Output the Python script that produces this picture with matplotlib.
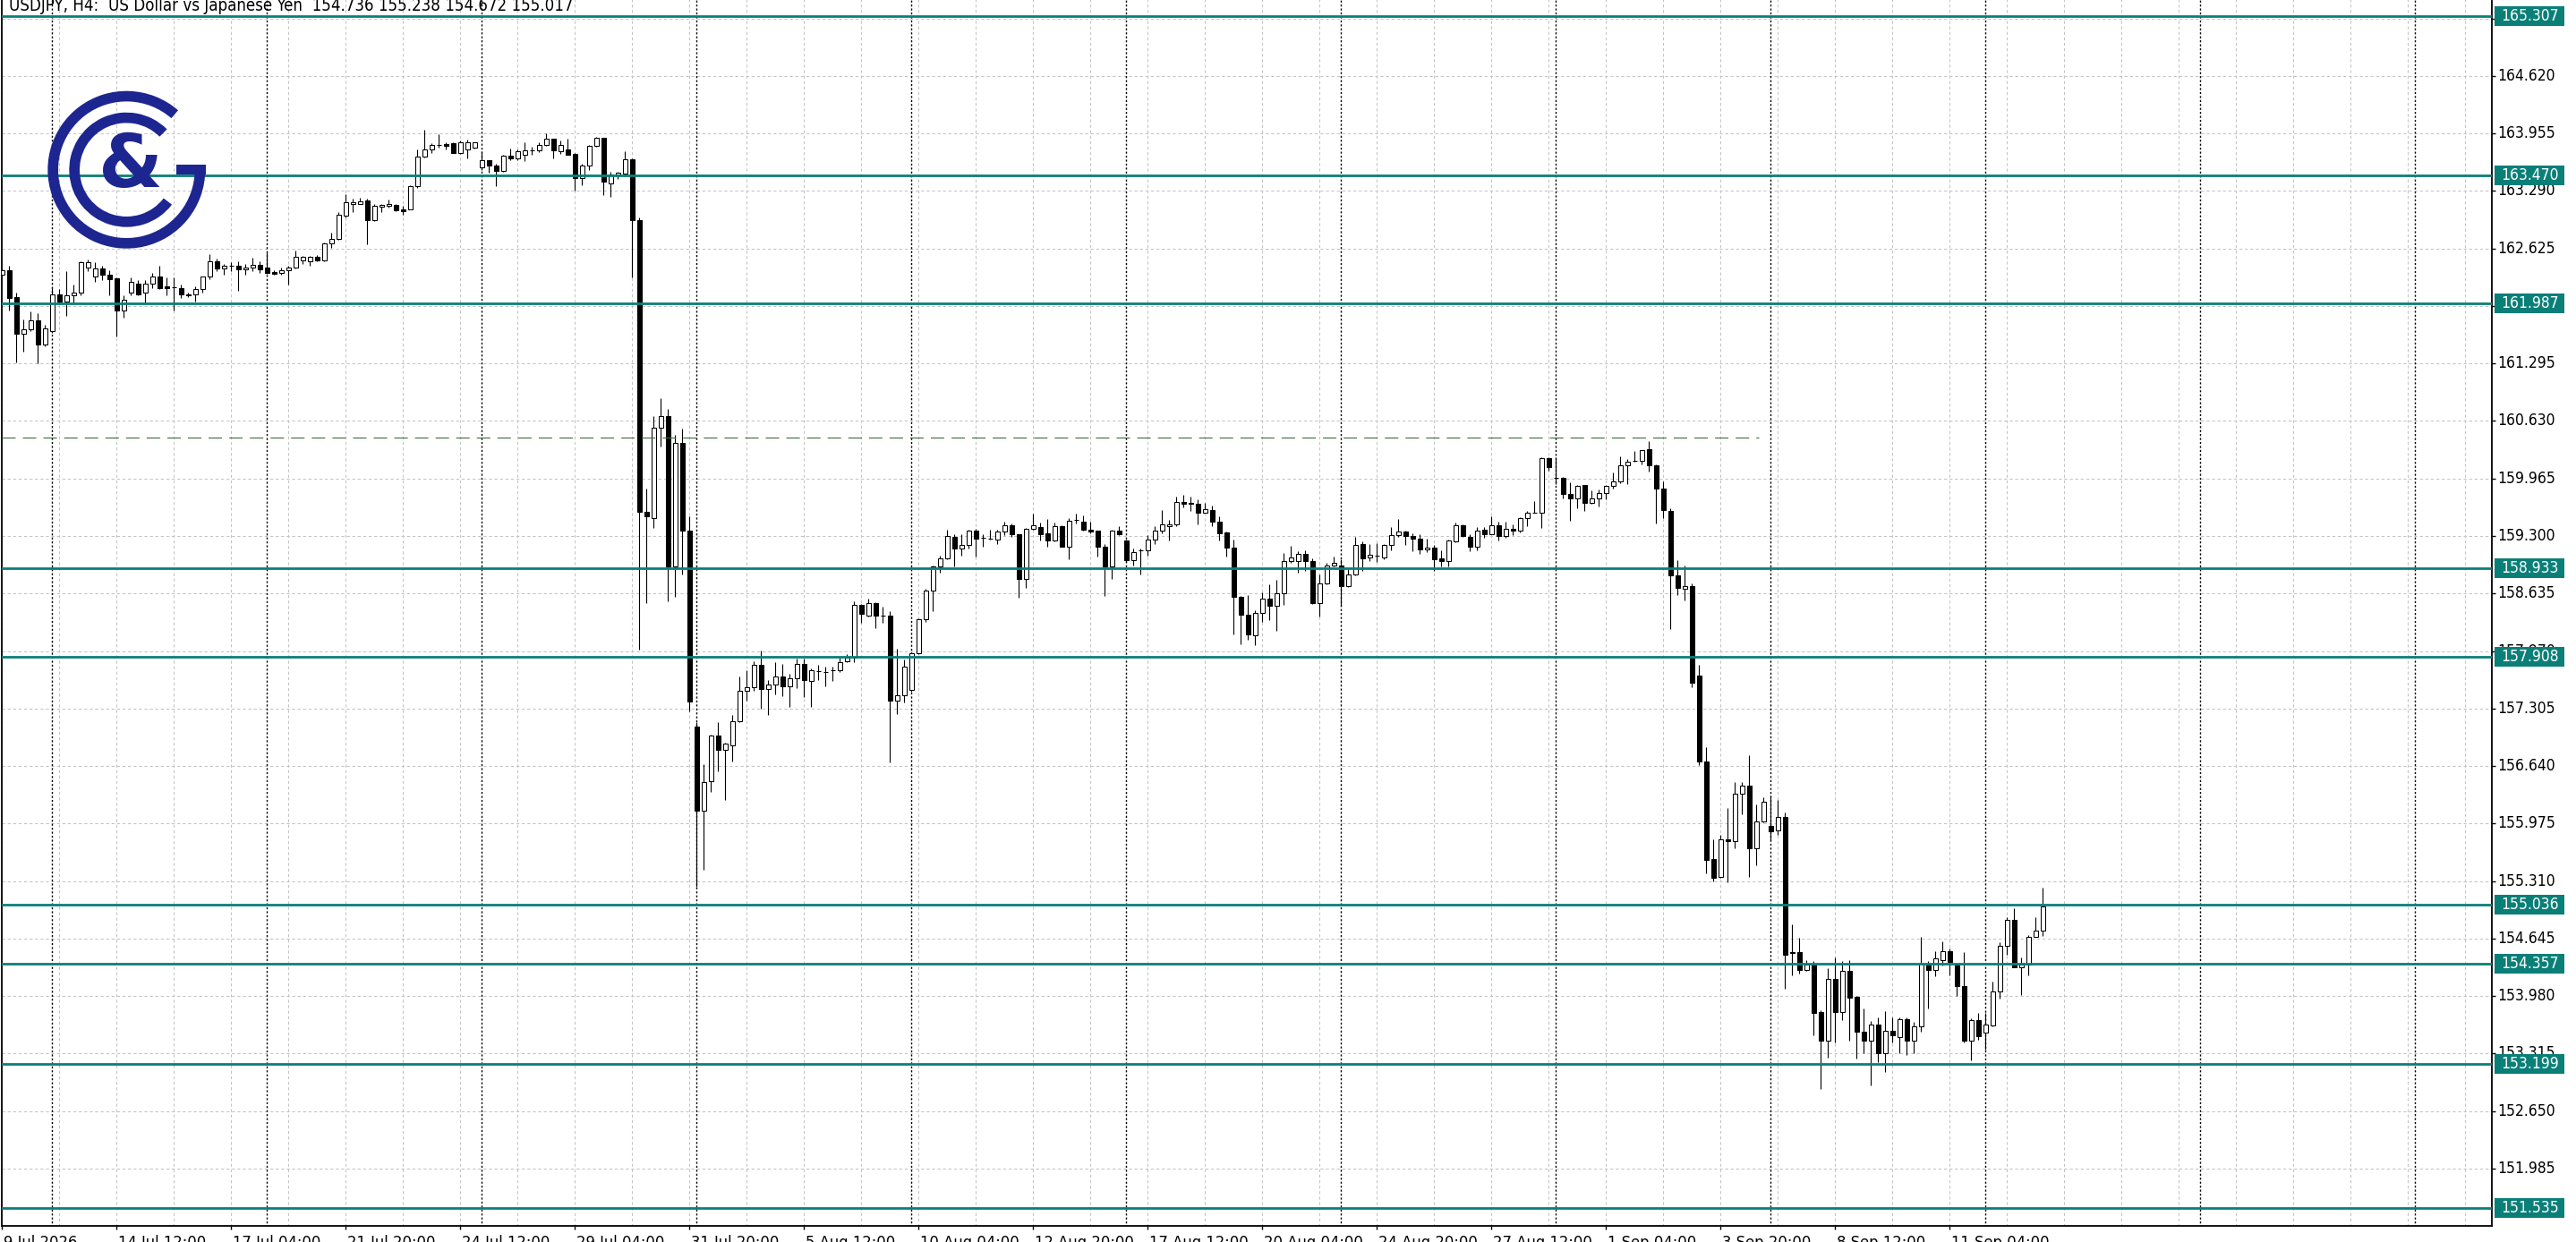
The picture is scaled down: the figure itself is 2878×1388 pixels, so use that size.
import numpy as np
import matplotlib
matplotlib.use("Agg")
import matplotlib.pyplot as plt
from matplotlib import font_manager as fm
from matplotlib.patches import Wedge, Rectangle
from matplotlib.transforms import Affine2D, blended_transform_factory

plt.rcParams['lines.scale_dashes'] = False

# ---------------- data (USDJPY H4 candles) ----------------
opens = [
162.324,162.375,162.058,161.634,161.686,161.799,161.513,161.668,162.096,162.006,
162.082,162.117,162.406,162.296,162.393,162.324,162.279,161.910,162.117,162.220,
162.110,162.213,162.306,162.186,162.179,162.165,162.099,162.096,162.151,162.296,
162.479,162.393,162.420,162.420,162.386,162.406,162.437,162.400,162.351,162.344,
162.375,162.406,162.486,162.479,162.531,162.489,162.686,162.731,163.007,163.144,
163.144,163.179,162.955,163.110,163.117,163.124,163.082,163.082,163.341,163.683,
163.772,163.824,163.831,163.841,163.731,163.772,163.789,163.558,163.641,163.582,
163.524,163.696,163.662,163.703,163.755,163.755,163.824,163.893,163.745,163.772,
163.720,163.434,163.582,163.807,163.903,163.376,163.479,163.489,163.658,162.955,
159.581,159.507,160.550,160.683,158.951,160.376,159.366,157.101,156.121,156.465,
156.990,156.823,156.879,157.157,157.508,157.553,157.812,157.527,157.582,157.675,
157.564,157.656,157.823,157.627,157.740,157.731,157.745,157.749,157.849,157.897,
158.507,158.380,158.526,158.378,158.378,157.393,157.462,157.520,157.944,158.341,
158.669,158.945,159.041,159.290,159.152,159.193,159.359,159.276,159.272,159.255,
159.352,159.421,159.317,158.807,159.386,159.400,159.331,159.248,159.410,159.179,
159.487,159.462,159.376,159.359,159.179,158.945,159.365,159.248,159.021,159.134,
159.134,159.255,159.365,159.410,159.434,159.696,159.678,159.669,159.572,159.600,
159.462,159.341,159.169,158.600,158.386,158.151,158.410,158.572,158.496,158.641,
159.007,159.007,159.093,159.007,158.524,158.755,158.962,158.955,158.720,158.858,
159.203,159.048,159.070,159.048,159.193,159.307,159.352,159.296,159.272,159.141,
159.169,159.041,159.014,159.238,159.428,159.290,159.179,159.376,159.324,159.421,
159.296,159.386,159.365,159.504,159.570,159.572,160.197,159.971,159.972,159.790,
159.738,159.886,159.686,159.731,159.800,159.876,159.928,160.117,160.166,160.169,
160.300,160.117,159.852,159.593,158.848,158.686,158.720,157.690,156.694,155.566,
155.355,155.788,155.769,156.324,156.417,155.688,156.002,155.947,155.892,156.047,
154.486,154.486,154.282,154.358,153.796,153.468,154.179,153.800,154.272,153.972,
153.572,153.461,153.651,153.323,153.582,153.503,153.710,153.468,153.627,154.351,
154.282,154.400,154.496,154.341,154.099,153.461,153.703,153.558,153.641,154.030,
154.558,154.858,154.317,154.341,154.668,154.736]
highs = [
162.390,162.427,162.117,161.806,161.893,161.875,161.737,162.168,162.151,162.358,
162.203,162.479,162.496,162.468,162.427,162.375,162.289,162.082,162.289,162.255,
162.255,162.341,162.427,162.289,162.289,162.203,162.117,162.186,162.306,162.555,
162.503,162.444,162.468,162.479,162.444,162.513,162.472,162.582,162.375,162.400,
162.427,162.600,162.541,162.541,162.548,162.696,162.806,163.048,163.248,163.203,
163.213,163.203,163.134,163.138,163.186,163.134,163.117,163.358,163.772,163.996,
163.841,163.945,163.858,163.848,163.869,163.883,163.858,163.745,163.651,163.600,
163.703,163.779,163.772,163.848,163.800,163.848,163.952,163.893,163.876,163.893,
163.731,163.600,163.824,163.917,163.903,163.513,163.514,163.745,163.669,162.980,
159.851,160.691,160.894,160.765,160.469,160.543,159.525,157.150,156.657,157.000,
157.146,156.910,157.231,157.675,157.749,157.849,157.971,157.638,157.842,157.823,
157.712,157.878,157.878,157.767,157.812,157.786,157.786,157.897,157.934,158.550,
158.510,158.581,158.537,158.480,158.427,157.996,157.875,157.960,158.350,158.686,
158.962,159.072,159.376,159.324,159.324,159.376,159.386,159.324,159.376,159.376,
159.462,159.445,159.320,159.393,159.559,159.455,159.497,159.455,159.421,159.504,
159.559,159.538,159.462,159.365,159.203,159.376,159.410,159.260,159.159,159.159,
159.307,159.410,159.600,159.490,159.755,159.779,159.755,159.721,159.686,159.652,
159.531,159.350,159.262,158.610,158.617,158.444,158.652,158.738,158.789,159.100,
159.186,159.124,159.134,159.041,158.858,158.986,159.065,159.031,158.917,159.290,
159.238,159.203,159.221,159.203,159.400,159.497,159.365,159.331,159.324,159.272,
159.193,159.134,159.262,159.455,159.434,159.324,159.400,159.400,159.524,159.469,
159.462,159.434,159.514,159.593,159.703,160.214,160.214,160.210,159.979,159.917,
159.893,159.893,159.824,159.841,159.893,160.031,160.221,160.186,160.283,160.297,
160.393,160.128,159.928,159.617,159.021,158.962,158.750,157.807,156.861,155.788,
155.843,156.158,156.454,156.454,156.768,156.195,156.280,156.295,156.243,156.102,
154.806,154.651,154.393,154.386,153.813,154.306,154.427,154.386,154.393,153.980,
153.841,153.696,153.737,153.806,153.737,153.737,153.737,153.686,154.668,154.386,
154.496,154.617,154.531,154.350,154.486,153.720,153.789,153.789,154.151,154.606,
154.893,154.996,154.427,154.686,154.893,155.238]
lows = [
162.300,161.910,161.306,161.427,161.668,161.296,161.496,161.651,161.979,161.841,
161.979,162.082,162.358,162.237,162.255,162.082,161.606,161.824,162.082,162.082,
161.979,162.168,162.151,162.082,161.910,162.048,162.065,162.013,162.117,162.272,
162.358,162.324,162.358,162.134,162.317,162.358,162.344,162.337,162.317,162.324,
162.210,162.393,162.444,162.427,162.472,162.479,162.634,162.720,162.986,163.048,
163.134,162.675,162.944,163.048,163.100,163.055,163.013,163.075,163.324,163.676,
163.731,163.789,163.772,163.724,163.720,163.662,163.779,163.531,163.496,163.341,
163.514,163.648,163.651,163.634,163.703,163.738,163.814,163.662,163.720,163.710,
163.289,163.358,163.531,163.800,163.238,163.220,163.427,163.479,162.289,157.989,
158.526,159.396,160.339,158.544,158.600,158.859,157.268,155.240,155.436,156.343,
156.583,156.250,156.694,157.146,157.397,157.508,157.305,157.231,157.471,157.453,
157.323,157.546,157.434,157.323,157.638,157.564,157.619,157.731,157.842,157.842,
158.297,158.372,158.230,158.297,156.680,157.237,157.375,157.500,157.930,158.307,
158.427,158.876,159.031,158.945,159.072,159.159,159.065,159.179,159.255,159.203,
159.307,159.290,158.583,158.703,159.376,159.248,159.179,159.238,159.179,159.031,
159.445,159.359,159.331,159.065,158.607,158.807,159.307,159.000,158.962,158.858,
159.072,159.203,159.331,159.248,159.410,159.634,159.593,159.434,159.565,159.410,
159.248,159.065,158.158,158.048,158.100,158.038,158.307,158.324,158.203,158.503,
158.986,158.876,158.893,158.514,158.365,158.738,158.951,158.496,158.710,158.850,
158.893,159.014,158.996,159.031,159.134,159.290,159.193,159.124,159.093,159.117,
158.893,158.945,158.945,159.228,159.290,159.124,159.134,159.283,159.317,159.248,
159.283,159.307,159.341,159.410,159.565,159.393,160.055,159.900,159.738,159.479,
159.617,159.593,159.676,159.641,159.721,159.848,159.910,159.903,160.159,160.124,
160.048,159.445,159.503,158.220,158.617,158.558,157.550,156.650,155.399,155.307,
155.344,155.296,155.688,156.084,155.358,155.492,155.990,155.777,155.843,154.065,
154.220,154.237,154.270,153.530,152.903,153.272,153.444,153.703,153.461,153.261,
153.316,152.951,153.220,153.106,153.444,153.316,153.296,153.323,153.565,153.841,
154.213,154.331,154.220,153.979,153.444,153.237,153.472,153.358,153.634,153.951,
154.462,154.310,153.996,154.220,154.662,154.672]
closes = [
162.375,162.055,161.634,161.686,161.799,161.513,161.703,162.096,162.013,162.082,
162.117,162.462,162.462,162.393,162.324,162.272,161.910,162.027,162.237,162.096,
162.213,162.306,162.168,162.168,162.175,162.096,162.082,162.151,162.296,162.479,
162.393,162.420,162.422,162.386,162.406,162.431,162.382,162.344,162.334,162.375,
162.406,162.531,162.531,162.531,162.489,162.686,162.731,163.013,163.158,163.158,
163.175,162.955,163.117,163.124,163.144,163.062,163.055,163.341,163.683,163.772,
163.824,163.826,163.814,163.731,163.858,163.858,163.848,163.641,163.589,163.524,
163.696,163.662,163.745,163.755,163.757,163.824,163.893,163.755,163.824,163.710,
163.434,163.582,163.807,163.903,163.393,163.479,163.496,163.658,162.955,159.581,
159.525,160.550,160.683,158.951,160.376,159.366,157.390,156.121,156.454,156.990,
156.823,156.898,157.157,157.508,157.553,157.812,157.527,157.582,157.675,157.564,
157.656,157.823,157.638,157.749,157.738,157.723,157.749,157.842,157.897,158.507,
158.396,158.526,158.378,158.376,157.395,157.462,157.789,157.944,158.341,158.669,
158.945,159.041,159.296,159.152,159.193,159.359,159.272,159.279,159.270,159.352,
159.421,159.317,158.807,159.386,159.421,159.324,159.248,159.410,159.179,159.479,
159.490,159.376,159.352,159.179,158.945,159.365,159.317,159.021,159.117,159.134,
159.255,159.365,159.434,159.434,159.696,159.676,159.676,159.572,159.607,159.462,
159.331,159.169,158.593,158.386,158.158,158.410,158.572,158.496,158.641,159.007,
159.048,159.093,159.007,158.524,158.755,158.962,158.986,158.720,158.858,159.193,
159.041,159.083,159.074,159.193,159.307,159.352,159.296,159.272,159.141,159.169,
159.031,159.014,159.248,159.421,159.296,159.179,159.359,159.324,159.421,159.296,
159.386,159.365,159.504,159.572,159.572,160.197,160.100,159.969,159.790,159.738,
159.883,159.686,159.738,159.800,159.876,159.928,160.117,160.162,160.169,160.290,
160.117,159.852,159.600,158.848,158.703,158.720,157.600,156.694,155.555,155.344,
155.795,155.769,156.324,156.417,155.688,156.002,156.232,155.888,156.047,154.462,
154.476,154.282,154.341,153.789,153.468,154.179,153.800,154.272,153.962,153.572,
153.461,153.651,153.323,153.582,153.523,153.710,153.468,153.627,154.351,154.282,
154.420,154.503,154.376,154.099,153.461,153.703,153.513,153.651,154.030,154.558,
154.858,154.317,154.341,154.668,154.737,155.017]

level_prices = [165.307, 163.470, 161.987, 158.933, 157.908, 155.036, 154.357, 153.199, 151.535]
level_labels = ["165.307", "163.470", "161.987", "158.933", "157.908", "155.036", "154.357", "153.199", "151.535"]
dashed_level = 160.434
dashed_end_bar = 245.3

ytick_labels = ["151.985", "152.650", "153.315", "153.980", "154.645", "155.310", "155.975",
                "156.640", "157.305", "157.970", "158.635", "159.300", "159.965", "160.630",
                "161.295", "161.960", "162.625", "163.290", "163.955", "164.620", "165.285"]
xtick_bars = [0, 16, 32, 48, 64, 80, 96, 112, 128, 144, 160, 176, 192, 208, 224, 240, 256, 272]
xtick_labels = ["9 Jul 2026", "14 Jul 12:00", "17 Jul 04:00", "21 Jul 20:00", "24 Jul 12:00",
                "29 Jul 04:00", "31 Jul 20:00", "5 Aug 12:00", "10 Aug 04:00", "12 Aug 20:00",
                "17 Aug 12:00", "20 Aug 04:00", "24 Aug 20:00", "27 Aug 12:00", "1 Sep 04:00",
                "3 Sep 20:00", "8 Sep 12:00", "11 Sep 04:00"]
week_separator_bars = [7, 37, 67, 97, 127, 157, 187, 217, 247, 277, 307, 337]
title_text = "USDJPY, H4:  US Dollar vs Japanese Yen  154.736 155.238 154.672 155.017"

# ---------------- style ----------------
W, H = 2878, 1388
DPI = 100
TEAL = "#0a7f78"
NAVY = "#1d2690"
GRID = "#c4c4c4"

avail = {f.name for f in fm.fontManager.ttflist}
if "Liberation Sans Narrow" in avail:
    UI_FONT, UI_STRETCH = "Liberation Sans Narrow", "normal"
else:
    UI_FONT, UI_STRETCH = "DejaVu Sans", "condensed"

fig = plt.figure(figsize=(W / DPI, H / DPI), dpi=DPI, facecolor="white")
AX_L, AX_R, AX_B = 2.0, 2784.0, 1370.0
ax = fig.add_axes([AX_L / W, (H - AX_B) / H, (AX_R - AX_L) / W, AX_B / H])
ax.set_facecolor("white")

PX_PER_BAR = 8.0
X0 = 2.3
x_left = (AX_L - X0) / PX_PER_BAR
x_right = (AX_R - X0) / PX_PER_BAR
ax.set_xlim(x_left, x_right)
ax.set_ylim(151.323, 165.498)

o = np.array(opens); h = np.array(highs); l = np.array(lows); c = np.array(closes)
n = len(o)
x = np.arange(n)

# grid
ytick_vals = [float(s) for s in ytick_labels]
ax.hlines(ytick_vals, x_left, x_right, colors=GRID, linewidth=0.75,
          linestyles=[(0, (2.4, 2.0))], zorder=1)
vgrid = np.arange(0, x_right, 8)
ax.vlines(vgrid, 151.0, 166.0, colors=GRID, linewidth=0.75,
          linestyles=[(0, (2.4, 2.0))], zorder=1)
ax.vlines(week_separator_bars, 151.0, 166.0, colors="black", linewidth=1.0,
          linestyles=[(0, (1.6, 1.6))], zorder=1.5)

# candles
ax.vlines(x, l, h, colors="black", linewidth=0.8, zorder=3)
bull = c >= o
bottom = np.minimum(o, c)
height = np.maximum(np.abs(c - o), 0.002)
ax.bar(x[bull], height[bull], bottom=bottom[bull], width=0.56, facecolor="white",
       edgecolor="black", linewidth=0.75, zorder=4)
ax.bar(x[~bull], height[~bull], bottom=bottom[~bull], width=0.56, facecolor="black",
       edgecolor="black", linewidth=0.75, zorder=4)

# dashed level
ax.hlines(dashed_level, x_left, dashed_end_bar, colors="#3f6a47", linewidth=0.8,
          linestyles=[(0, (10.8, 5.8))], zorder=5)
# horizontal teal levels
for p in level_prices:
    ax.axhline(p, color=TEAL, linewidth=2.0, zorder=6)

ax.spines["top"].set_visible(False)
for s in ["left", "right", "bottom"]:
    ax.spines[s].set_linewidth(1.3)
    ax.spines[s].set_color("black")

ax.set_yticks(ytick_vals)
ax.yaxis.tick_right()
ax.set_xticks(xtick_bars)
ax.tick_params(axis="y", which="both", right=True, left=False, labelright=False,
               labelleft=False, length=3, width=1, direction="out", color="black")
ax.tick_params(axis="x", which="both", bottom=True, labelbottom=False, length=3,
               width=1, direction="out", color="black")

# text helpers: image-pixel coordinates (y downward)
img = Affine2D().scale(1, -1).translate(0, H)
yblend = blended_transform_factory(img, ax.transData)
xblend = blended_transform_factory(ax.transData, img)

ylab_texts = []
for s in ytick_labels:
    t = fig.text(2790.5, float(s), s, transform=yblend, ha="left", va="center",
                 fontsize=16, family=UI_FONT, fontstretch=UI_STRETCH, color="black", zorder=10)
    ylab_texts.append(t)

box_h = 22 / 96.65
box_texts = []
for p, s in zip(level_prices, level_labels):
    r = Rectangle((2787.3, p - box_h / 2), 77.5, box_h, transform=yblend, facecolor=TEAL,
                  edgecolor="none", zorder=11, clip_on=False)
    fig.add_artist(r)
    t = fig.text(2794.0, p, s, transform=yblend, ha="left", va="center", fontsize=16,
                 family=UI_FONT, fontstretch=UI_STRETCH, color="white", zorder=12)
    box_texts.append(t)

xlab_texts = []
for b, s in zip(xtick_bars, xtick_labels):
    t = fig.text(b + 1.5 / PX_PER_BAR, 1379.5, s, transform=xblend, ha="left", va="top",
                 fontsize=16, family=UI_FONT, fontstretch=UI_STRETCH, color="black", zorder=10)
    xlab_texts.append(t)

title = fig.text(10, 12, title_text, transform=img, ha="left", va="baseline", fontsize=16,
                 family=UI_FONT, fontstretch=UI_STRETCH, color="black", zorder=10)

# logo
LX0, LX1, LY0, LY1 = 40, 240, 95, 285
lax = fig.add_axes([LX0 / W, (H - LY1) / H, (LX1 - LX0) / W, (LY1 - LY0) / H], zorder=20)
lax.set_xlim(LX0, LX1)
lax.set_ylim(H - LY1, H - LY0)
lax.axis("off")
lax.patch.set_alpha(0)
cx, cy = 141.3, H - 189.7
lax.add_patch(Wedge((cx, cy), 88, 49, 360, width=11.7, facecolor=NAVY, edgecolor="none"))
lax.add_patch(Wedge((cx, cy), 64, 45, 322.5, width=11.7, facecolor=NAVY, edgecolor="none"))
lax.add_patch(Rectangle((196.7, cy - 5.6), 33.0, 11.2, facecolor=NAVY, edgecolor="none"))
amp = lax.text(146, H - 187, "&", ha="center", va="center", fontsize=60,
               family=UI_FONT, fontweight="bold", color=NAVY)

# fit font sizes to measured widths
fig.canvas.draw()
rend = fig.canvas.get_renderer()

def fit_group(texts, sample, target_w=None, target_h=None):
    ext = sample.get_window_extent(rend)
    f = target_w / ext.width if target_w else target_h / ext.height
    for t in texts:
        t.set_fontsize(t.get_fontsize() * f)

fit_group(ylab_texts + box_texts, ylab_texts[19], target_w=65)
fit_group(xlab_texts, xlab_texts[1], target_w=99)
fit_group([title], title, target_w=633)
fit_group([amp], amp, target_h=80)

fig.savefig("out.png", dpi=DPI, facecolor="white")
